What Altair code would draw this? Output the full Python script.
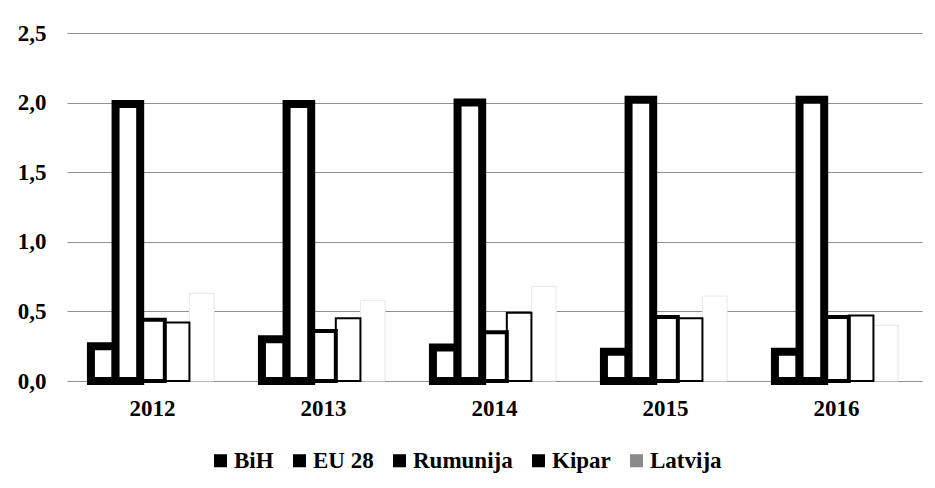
import altair as alt
import pandas as pd

years = ["2012", "2013", "2014", "2015", "2016"]
series = ["BiH", "EU 28", "Rumunija", "Kipar", "Latvija"]
bih = [0.25, 0.30, 0.24, 0.21, 0.21]
eu28 = [1.99, 1.99, 2.00, 2.02, 2.02]
rumunija = [0.44, 0.36, 0.35, 0.46, 0.46]
kipar = [0.42, 0.45, 0.49, 0.45, 0.47]
latvija = [0.63, 0.58, 0.68, 0.61, 0.40]

values = {"BiH": bih, "EU 28": eu28, "Rumunija": rumunija, "Kipar": kipar, "Latvija": latvija}
rows = []
for s in series:
    for y, v in zip(years, values[s]):
        rows.append({"year": y, "series": s, "value": v})
df = pd.DataFrame(rows)

FONT = "Liberation Serif"
FS = 23

base = alt.Chart(df).encode(
    x=alt.X("year:N", sort=years,
            scale=alt.Scale(domain=years, paddingInner=0.28, paddingOuter=0.14),
            axis=alt.Axis(title=None, labelAngle=0, ticks=False, domain=False,
                          labelPadding=16, labelFont=FONT, labelFontSize=FS,
                          labelFontWeight="bold", labelColor="black")),
    xOffset=alt.XOffset("series:N",
                        scale=alt.Scale(domain=series, paddingInner=0, paddingOuter=0)),
    y=alt.Y("value:Q", scale=alt.Scale(domain=[0, 2.5]),
            axis=alt.Axis(title=None, values=[0, 0.5, 1, 1.5, 2, 2.5],
                          labelExpr="replace(format(datum.value, '.1f'), '.', ',')",
                          ticks=False, domain=False, labelPadding=21, minExtent=59,
                          labelFont=FONT, labelFontSize=FS, labelFontWeight="bold",
                          labelColor="black", grid=True, gridColor="#8f8f8f",
                          gridWidth=1)),
)

under = base.mark_bar().encode(
    color=alt.Color("series:N", sort=series,
                    scale=alt.Scale(domain=series,
                                    range=["black", "black", "black", "black", "#8a8a8a"]),
                    legend=alt.Legend(title=None, orient="none", legendX=142, legendY=416,
                                      direction="horizontal", symbolType="square",
                                      symbolSize=170, symbolStrokeWidth=0, labelFont=FONT,
                                      labelFontSize=FS, labelFontWeight="bold",
                                      labelColor="black", labelOffset=2,
                                      columnPadding=14)),
)

thick = base.transform_filter(
    alt.FieldOneOfPredicate(field="series", oneOf=["BiH", "EU 28"])
).mark_bar(fill="white", stroke="black", strokeWidth=8)

medium = base.transform_filter(
    alt.FieldEqualPredicate(field="series", equal="Rumunija")
).mark_bar(fill="white", stroke="black", strokeWidth=4)

thin = base.transform_filter(
    alt.FieldEqualPredicate(field="series", equal="Kipar")
).mark_bar(fill="white", stroke="black", strokeWidth=2)

faint = base.transform_filter(
    alt.FieldEqualPredicate(field="series", equal="Latvija")
).mark_bar(fill="white", stroke="#ececec", strokeWidth=1)

chart = alt.layer(under, faint, thin, medium, thick).properties(
    width=855, height=348,
    padding={"top": 14, "left": 0, "right": 5, "bottom": 5},
).configure_view(stroke=None)

chart.save("out.html", embed_options={"renderer": "svg", "actions": False})
